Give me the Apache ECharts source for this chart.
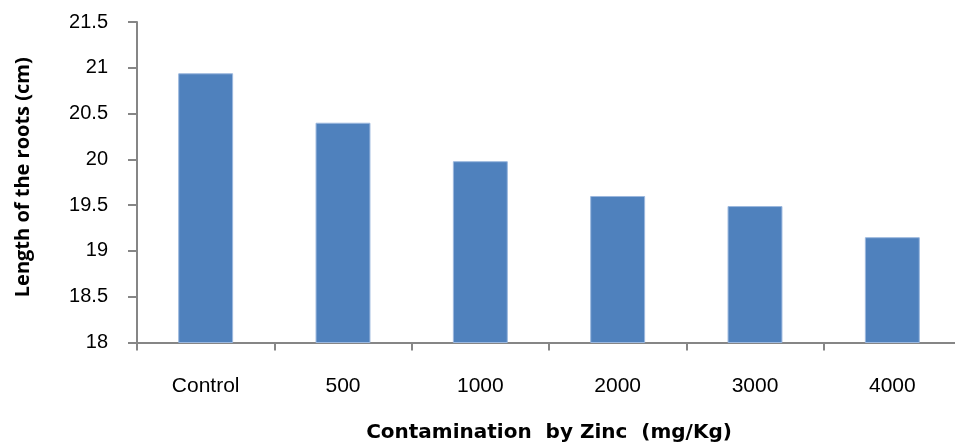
<!DOCTYPE html>
<html>
<head>
<meta charset="utf-8">
<script src="https://cdn.jsdelivr.net/npm/echarts@6/dist/echarts.min.js"></script>
<style>html,body{margin:0;padding:0;background:#fff}#c{width:955px;height:445px}</style>
</head>
<body>
<div id="c"></div>
<script>
var categories = ['Control', '500', '1000', '2000', '3000', '4000'];
var rootLength = [20.94, 20.40, 19.98, 19.60, 19.49, 19.15];
var yMin = 18, yMax = 21.5, yStep = 0.5;

var chart = echarts.init(document.getElementById('c'));
chart.setOption({
  animation: false,
  grid: {left: 137, top: 22, width: 824, height: 320.5, outerBoundsMode: 'none', containLabel: false},
  xAxis: {
    type: 'category',
    data: categories,
    name: 'Contamination  by Zinc  (mg/Kg)',
    nameLocation: 'middle',
    nameGap: 80,
    nameTextStyle: {fontFamily: 'DejaVu Sans', fontWeight: 'bold', fontSize: 20, color: '#000'},
    axisLine: {lineStyle: {color: '#868686', width: 2}},
    axisTick: {show: true, length: 8, alignWithLabel: false, lineStyle: {color: '#868686', width: 2}},
    axisLabel: {margin: 33, fontFamily: 'Liberation Sans', fontSize: 21, color: '#000'}
  },
  yAxis: {
    type: 'value',
    min: yMin, max: yMax, interval: yStep,
    name: 'Length of the roots (cm)',
    nameLocation: 'middle',
    nameGap: 104,
    nameTextStyle: {fontFamily: 'Open Sans', fontWeight: 'bold', fontSize: 20, color: '#000', padding: [0, 0, 0, 10]},
    axisLine: {show: true, lineStyle: {color: '#868686', width: 2}},
    axisTick: {show: true, length: 9, lineStyle: {color: '#868686', width: 2}},
    splitLine: {show: false},
    axisLabel: {margin: 29, fontFamily: 'Liberation Sans', fontSize: 20, color: '#000',
      formatter: function (v) { return String(+v.toFixed(1)); }}
  },
  series: [{
    type: 'bar',
    data: rootLength,
    barWidth: '40%',
    itemStyle: {color: '#4F81BD', borderColor: '#9CB8DE', borderWidth: 1}
  }]
});
</script>
</body>
</html>
